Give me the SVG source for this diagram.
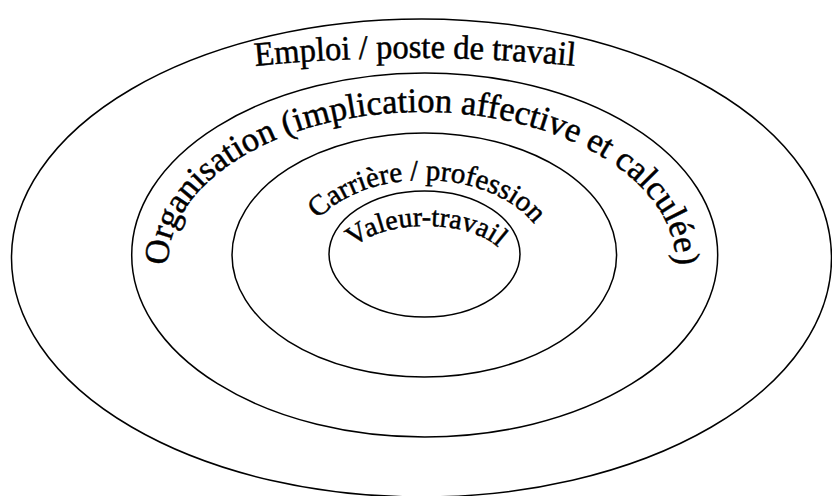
<svg xmlns="http://www.w3.org/2000/svg" xmlns:xlink="http://www.w3.org/1999/xlink" width="832" height="496" viewBox="0 0 832 496">
  <style>
    .ring { fill: none; stroke: #000; stroke-width: 1.5; }
    .lbl { font-family: "Liberation Serif", "Times New Roman", serif; fill: #000; stroke: #000; stroke-width: 0.5; }
  </style>
  <defs>
    <path id="p-emploi" d="M 236 68 Q 415 48 594 68"/>
    <path id="p-org" d="M 168 264 A 254 152 0 0 1 676 264"/>
    <path id="p-carr" d="M 300 262 A 124 82 0 0 1 548 262"/>
    <path id="p-val" d="M 346 264 A 80 38 0 0 1 506 264"/>
  </defs>
  <rect width="832" height="496" fill="#fff"/>
  <g id="emploi">
    <ellipse class="ring" cx="421.5" cy="258" rx="410" ry="239"/>
    <text class="lbl" font-size="34"><textPath xlink:href="#p-emploi" href="#p-emploi" startOffset="50%" text-anchor="middle" textLength="320" lengthAdjust="spacingAndGlyphs">Emploi / poste de travail</textPath></text>
  </g>
  <g id="organisation">
    <ellipse class="ring" cx="424.7" cy="255" rx="293" ry="182"/>
    <text class="lbl" font-size="34.5"><textPath xlink:href="#p-org" href="#p-org" startOffset="50%" text-anchor="middle">Organisation (implication affective et calculée)</textPath></text>
  </g>
  <g id="carriere">
    <ellipse class="ring" cx="424.3" cy="255" rx="192.3" ry="122"/>
    <text class="lbl" font-size="29"><textPath xlink:href="#p-carr" href="#p-carr" startOffset="51%" text-anchor="middle">Carrière / profession</textPath></text>
  </g>
  <g id="valeur">
    <ellipse class="ring" cx="424.5" cy="254" rx="95.5" ry="63"/>
    <text class="lbl" font-size="28"><textPath xlink:href="#p-val" href="#p-val" startOffset="50%" text-anchor="middle">Valeur-travail</textPath></text>
  </g>
</svg>
